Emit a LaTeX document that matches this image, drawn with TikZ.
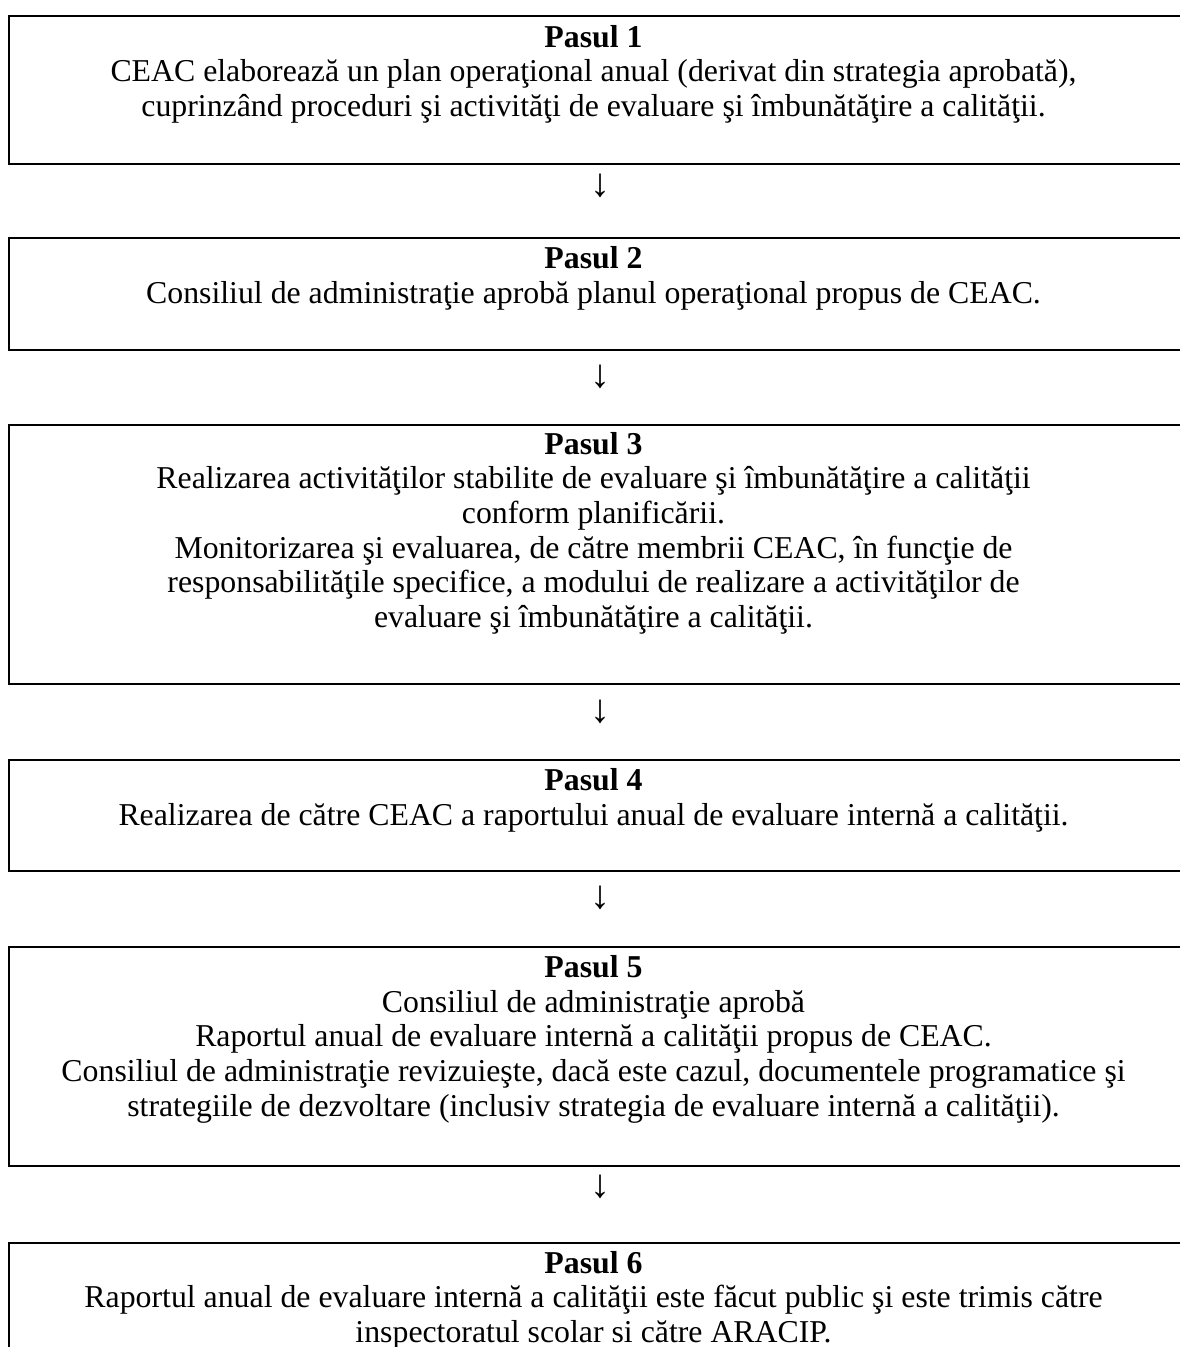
\documentclass[tikz,border=0pt]{standalone}
\usepackage{fontspec}
\setmainfont{Liberation Serif}
\begin{document}
\begin{tikzpicture}[x=1pt,y=1pt,
  stepbox/.style={draw=black, line width=2.3pt, inner sep=0pt, minimum width=1180pt, anchor=north west},
  steptext/.style={anchor=north, inner sep=0pt, align=center, font=\fontsize{31.8}{34.6}\selectfont},
  arrowglyph/.style={inner sep=0pt, font=\fontsize{40}{40}\selectfont}]
\useasboundingbox (0,0) rectangle (1179,-1347);
% boxes
\node[stepbox, minimum height=148pt] (b1) at (8,-15) {};
\node[stepbox, minimum height=112pt] (b2) at (8,-237) {};
\node[stepbox, minimum height=259pt] (b3) at (8,-424) {};
\node[stepbox, minimum height=111pt] (b4) at (8,-759) {};
\node[stepbox, minimum height=219pt] (b5) at (8,-946) {};
\node[stepbox, minimum height=200pt] (b6) at (8,-1242) {};
% texts
\node[steptext] (t1) at (593.5,-16) {\rule{0pt}{31pt}\textbf{Pasul 1}\\
CEAC elaborează un plan operaţional anual (derivat din strategia aprobată),\\
cuprinzând proceduri şi activităţi de evaluare şi îmbunătăţire a calităţii.};
\node[steptext] (t2) at (593.5,-237.5) {\rule{0pt}{31pt}\textbf{Pasul 2}\\
Consiliul de administraţie aprobă planul operaţional propus de CEAC.};
\node[steptext] (t3) at (593.5,-423) {\rule{0pt}{31pt}\textbf{Pasul 3}\\
Realizarea activităţilor stabilite de evaluare şi îmbunătăţire a calităţii\\
conform planificării.\\
Monitorizarea şi evaluarea, de către membrii CEAC, în funcţie de\\
responsabilităţile specifice, a modului de realizare a activităţilor de\\
evaluare şi îmbunătăţire a calităţii.};
\node[steptext] (t4) at (593.5,-759.5) {\rule{0pt}{31pt}\textbf{Pasul 4}\\
Realizarea de către CEAC a raportului anual de evaluare internă a calităţii.};
\node[steptext] (t5) at (593.5,-946.5) {\rule{0pt}{31pt}\textbf{Pasul 5}\\
Consiliul de administraţie aprobă\\
Raportul anual de evaluare internă a calităţii propus de CEAC.\\
Consiliul de administraţie revizuieşte, dacă este cazul, documentele programatice şi\\
strategiile de dezvoltare (inclusiv strategia de evaluare internă a calităţii).};
\node[steptext] (t6) at (593.5,-1242) {\rule{0pt}{31pt}\textbf{Pasul 6}\\
Raportul anual de evaluare internă a calităţii este făcut public şi este trimis către\\
inspectoratul scolar si către ARACIP.};
% arrows (text glyphs)
\node[arrowglyph] (a1) at (600,-186) {↓};
\node[arrowglyph] (a2) at (600,-377) {↓};
\node[arrowglyph] (a3) at (600,-712) {↓};
\node[arrowglyph] (a4) at (600,-898) {↓};
\node[arrowglyph] (a5) at (600,-1187) {↓};
\end{tikzpicture}
\end{document}
